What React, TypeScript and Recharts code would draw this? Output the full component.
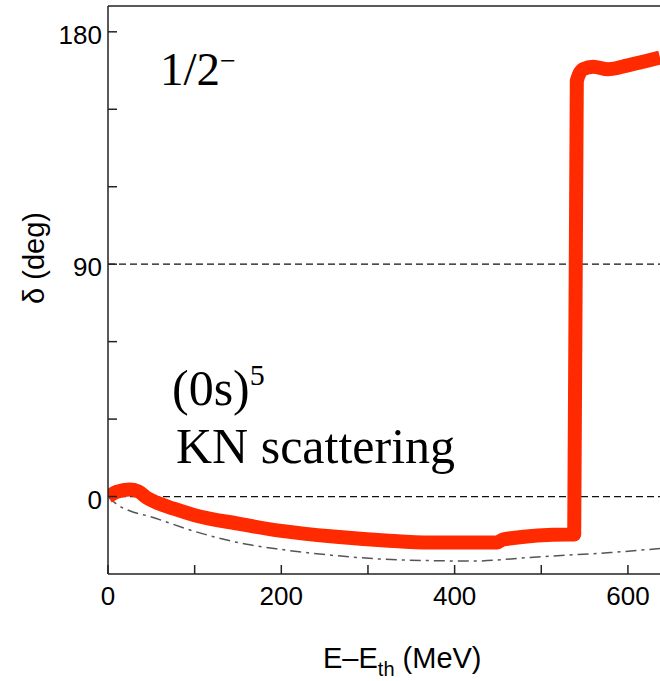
import React from "react";
import { LineChart, Line, XAxis, YAxis, ReferenceLine } from "recharts";

// axis ticks (minor ticks have no label)
const xTicks = [0, 100, 200, 300, 400, 500, 600];
const xLabels = [0, 200, 400, 600];
const yTicks = [0, 30, 60, 90, 120, 150, 180];
const yLabels = [0, 90, 180];
const guideLevels = [0, 90];

// thick red curve: phase shift delta (deg) vs E - E_th (MeV)
const phaseEnergy = [0, 10, 25, 35, 45, 56, 75, 100, 150, 200, 260, 320, 372, 449, 456, 530, 538, 541, 548, 560, 577, 600, 637];
const phaseDelta = [0, 1.8, 2.7, 2, -0.5, -2.3, -4.6, -7.2, -10.5, -13.3, -15.5, -17, -17.8, -17.8, -16.6, -14.7, -14.7, 161, 165.5, 166.5, 165.5, 167, 170];

// dash-dot reference curve
const refEnergy = [0, 10, 25, 48, 100, 160, 200, 260, 320, 372, 420, 487, 540, 580, 637];
const refDelta = [0, -3, -5.5, -7.7, -13.5, -18.5, -20.5, -22.8, -24.3, -24.8, -25, -23.6, -22.5, -21.7, -20.1];

const phaseData = phaseEnergy.map((e, i) => ({ e, d: phaseDelta[i] }));
const refData = refEnergy.map((e, i) => ({ e, d: refDelta[i] }));

const SANS = "'Liberation Sans', Arial, sans-serif";
const SERIF = "'Liberation Serif', 'Times New Roman', serif";
const AXIS = "#222";

function BottomTick({ x, y, payload }: any) {
  const v = payload.value;
  return (
    <g>
      <line x1={x} y1={y} x2={x} y2={y - 9} stroke={AXIS} strokeWidth={1.5} />
      {xLabels.includes(v) && (
        <text x={x} y={y + 31} textAnchor="middle" fontFamily={SANS} fontSize={26} fill="#000">
          {v}
        </text>
      )}
    </g>
  );
}

function TopTick({ x, y }: any) {
  return <line x1={x} y1={y} x2={x} y2={y + 9} stroke={AXIS} strokeWidth={1.5} />;
}

function LeftTick({ x, y, payload }: any) {
  const v = payload.value;
  return (
    <g>
      <line x1={x} y1={y} x2={x + 9} y2={y} stroke={AXIS} strokeWidth={1.5} />
      {yLabels.includes(v) && (
        <text x={x - 6} y={y + 12} textAnchor="end" fontFamily={SANS} fontSize={26} fill="#000">
          {v}
        </text>
      )}
    </g>
  );
}

export default function App() {
  return (
    <div style={{ position: "absolute", left: 0, top: 0, width: 660, height: 681, overflow: "hidden", background: "#fff" }}>
      <LineChart width={660} height={681} margin={{ top: 0, right: 0, left: 0, bottom: 0 }}>
        <XAxis
          xAxisId="e"
          type="number"
          dataKey="e"
          domain={[0, 637]}
          ticks={xTicks}
          allowDataOverflow
          height={107}
          tickSize={0}
          tickMargin={0}
          tickLine={false}
          tick={<BottomTick />}
          axisLine={{ stroke: AXIS, strokeWidth: 1.5 }}
          interval={0}
        />
        <XAxis
          xAxisId="top"
          orientation="top"
          type="number"
          domain={[0, 637]}
          ticks={xTicks}
          allowDataOverflow
          height={6}
          tickSize={0}
          tickMargin={0}
          tickLine={false}
          tick={<TopTick />}
          axisLine={{ stroke: AXIS, strokeWidth: 1.5 }}
          interval={0}
        />
        <YAxis
          type="number"
          domain={[-30, 190]}
          ticks={yTicks}
          allowDataOverflow
          width={108}
          tickSize={0}
          tickMargin={0}
          tickLine={false}
          tick={<LeftTick />}
          axisLine={{ stroke: AXIS, strokeWidth: 1.5 }}
          interval={0}
        />
        {guideLevels.map((lv) => (
          <ReferenceLine key={lv} xAxisId="e" y={lv} stroke="#111" strokeWidth={1.2} strokeDasharray="7 4" />
        ))}
        <Line
          xAxisId="e"
          data={refData}
          dataKey="d"
          type="monotone"
          stroke="#555"
          strokeWidth={1.5}
          strokeDasharray="11 5 3 5"
          dot={false}
          isAnimationActive={false}
        />
        <Line
          xAxisId="e"
          data={phaseData}
          dataKey="d"
          type="monotone"
          stroke="#ff2a00"
          strokeWidth={14}
          strokeLinejoin="round"
          dot={false}
          isAnimationActive={false}
        />
        <text x={160} y={85} fontFamily={SERIF} fontSize={47} fill="#000">
          1/2
          <tspan fontSize={28} dy={-15}>−</tspan>
        </text>
        <text x={172} y={405} fontFamily={SERIF} fontSize={50} fill="#000">
          (0s)
          <tspan fontSize={30} dy={-20}>5</tspan>
        </text>
        <text x={176} y={463} fontFamily={SERIF} fontSize={50} fill="#000">
          KN scattering
        </text>
        <text x={323} y={668} fontFamily={SANS} fontSize={29} fill="#000">
          E–E
          <tspan fontSize={20} dy={8}>th</tspan>
          <tspan dy={-8}> (MeV)</tspan>
        </text>
        <text
          x={44}
          y={258}
          transform="rotate(-90 44 258)"
          textAnchor="middle"
          fontFamily={SANS}
          fontSize={29}
          fill="#000"
        >
          δ (deg)
        </text>
      </LineChart>
    </div>
  );
}
